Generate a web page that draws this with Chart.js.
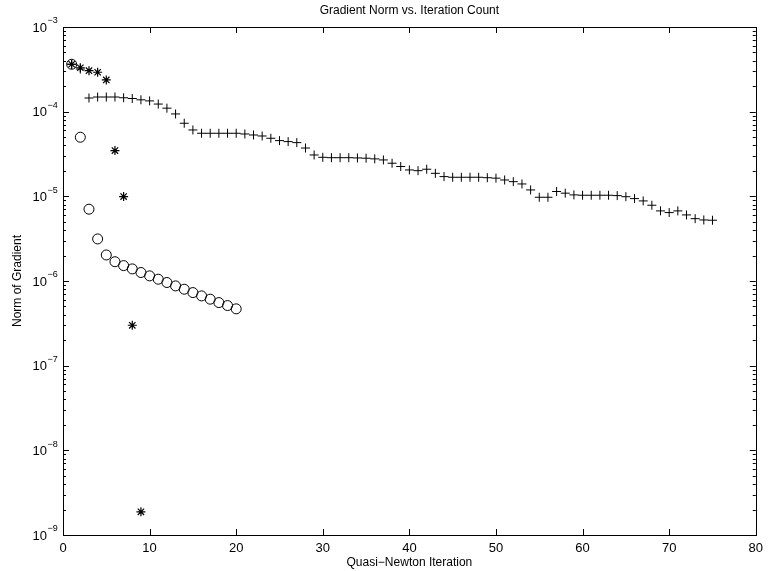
<!DOCTYPE html>
<html>
<head>
<meta charset="utf-8">
<script src="https://cdn.jsdelivr.net/npm/chart.js"></script>
<style>
  body { margin: 0; background: #fff; }
</style>
</head>
<body>
<canvas id="chartBox" width="769" height="571"></canvas>
<script>
// gradient norm per quasi-newton iteration
const plusNorm = [
    3.63e-4, 3.19e-4, 1.45e-4, 1.49e-4, 1.49e-4, 1.49e-4, 1.46e-4, 1.43e-4, 1.38e-4, 1.34e-4,
    1.23e-4, 1.10e-4, 9.4e-5, 7.3e-5, 6.08e-5, 5.56e-5, 5.56e-5, 5.56e-5, 5.56e-5, 5.56e-5,
    5.45e-5, 5.3e-5, 5.16e-5, 4.85e-5, 4.55e-5, 4.43e-5, 4.31e-5, 3.72e-5, 3.08e-5, 2.89e-5,
    2.86e-5, 2.86e-5, 2.86e-5, 2.84e-5, 2.82e-5, 2.77e-5, 2.69e-5, 2.46e-5, 2.25e-5, 2.05e-5,
    2.01e-5, 2.09e-5, 1.87e-5, 1.71e-5, 1.68e-5, 1.68e-5, 1.68e-5, 1.68e-5, 1.66e-5, 1.64e-5,
    1.56e-5, 1.49e-5, 1.40e-5, 1.19e-5, 9.75e-6, 9.75e-6, 1.14e-5, 1.09e-5, 1.04e-5, 1.03e-5,
    1.03e-5, 1.03e-5, 1.03e-5, 1.02e-5, 9.9e-6, 9.4e-6, 8.83e-6, 7.85e-6, 6.73e-6, 6.43e-6,
    6.73e-6, 6.03e-6, 5.45e-6, 5.26e-6, 5.22e-6
]
const circleNorm = [
    3.63e-4, 4.99e-5, 7.05e-6, 3.14e-6, 2.03e-6, 1.69e-6, 1.52e-6, 1.39e-6, 1.26e-6, 1.15e-6,
    1.05e-6, 9.6e-7, 8.75e-7, 8.0e-7, 7.3e-7, 6.67e-7, 6.1e-7, 5.56e-7, 5.13e-7, 4.69e-7
]
const starNorm = [3.63e-4, 3.3e-4, 3.05e-4, 2.92e-4, 2.37e-4, 3.47e-5, 9.93e-6, 3.0e-7, 1.88e-9]

const xTicks = [0, 10, 20, 30, 40, 50, 60, 70, 80]
const yExponents = [-3, -4, -5, -6, -7, -8, -9]

const FONT = "'Liberation Sans', Arial, Helvetica, sans-serif"
Chart.defaults.color = '#000'
Chart.defaults.font.family = FONT

const toPoints = (values) => values.map((v, i) => ({x: i + 1, y: v}))

// matlab style box, inward ticks and 10^n labels
const matlabAxes = {
    id: 'matlabAxes',
    afterDraw(chart) {
        const {ctx, chartArea: a, scales} = chart
        const xs = scales.x
        const ys = scales.y
        ctx.save()
        ctx.strokeStyle = '#000'
        ctx.lineWidth = 1
        ctx.strokeRect(Math.round(a.left) + 0.5, Math.round(a.top) + 0.5,
            Math.round(a.right - a.left), Math.round(a.bottom - a.top))
        ctx.beginPath()
        xTicks.forEach(t => {
            const px = Math.round(xs.getPixelForValue(t)) + 0.5
            ctx.moveTo(px, a.bottom); ctx.lineTo(px, a.bottom - 6)
            ctx.moveTo(px, a.top); ctx.lineTo(px, a.top + 6)
        })
        yExponents.forEach(e => {
            for (let m = 1; m < 10; m++) {
                const v = m * Math.pow(10, e)
                if (e === -3 && m > 1) break
                const py = Math.round(ys.getPixelForValue(v)) + 0.5
                const len = m === 1 ? 6 : 3
                ctx.moveTo(a.left, py); ctx.lineTo(a.left + len, py)
                ctx.moveTo(a.right, py); ctx.lineTo(a.right - len, py)
            }
        })
        ctx.stroke()

        ctx.fillStyle = '#000'
        ctx.textBaseline = 'middle'
        yExponents.forEach(e => {
            const py = ys.getPixelForValue(Math.pow(10, e))
            ctx.font = '13px ' + FONT
            ctx.textAlign = 'right'
            ctx.fillText('10', 47, py + 1)
            ctx.font = '9px ' + FONT
            ctx.textAlign = 'left'
            ctx.fillText('\u2212' + Math.abs(e), 47.5, py - 6)
        })
        ctx.restore()
    }
}

const context = document.querySelector('#chartBox').getContext('2d')
const chart = new Chart(context, {
    type: 'scatter',
    data: {
        datasets: [{
            label: 'plus',
            data: toPoints(plusNorm),
            pointStyle: 'cross',
            pointRadius: 4.5,
            borderColor: '#000',
            borderWidth: 1,
            showLine: false
        }, {
            label: 'circle',
            data: toPoints(circleNorm),
            pointStyle: 'circle',
            pointRadius: 5,
            borderColor: '#000',
            backgroundColor: 'rgba(0,0,0,0)',
            borderWidth: 1,
            showLine: false
        }, {
            label: 'star',
            data: toPoints(starNorm),
            pointStyle: 'star',
            pointRadius: 4.5,
            borderColor: '#000',
            borderWidth: 1.2,
            showLine: false
        }]
    },
    options: {
        responsive: false,
        animation: false,
        layout: {padding: {left: 0, right: 8, top: 0, bottom: 0}},
        plugins: {
            legend: {display: false},
            tooltip: {enabled: false},
            title: {
                display: true,
                fullSize: false,
                text: 'Gradient Norm vs. Iteration Count',
                font: {size: 12, weight: 'normal', family: FONT},
                color: '#000',
                padding: {top: 3, bottom: 9.6}
            }
        },
        scales: {
            x: {
                type: 'linear',
                min: 0,
                max: 80,
                grid: {display: false, drawTicks: false},
                border: {display: false},
                ticks: {stepSize: 10, font: {size: 13}, padding: 6, color: '#000'},
                title: {
                    display: true,
                    text: 'Quasi\u2212Newton Iteration',
                    font: {size: 12},
                    color: '#000',
                    padding: {top: 0, bottom: 1}
                },
                afterFit: (scale) => { scale.height = 36 }
            },
            y: {
                type: 'logarithmic',
                min: 1e-9,
                max: 1e-3,
                grid: {display: false, drawTicks: false},
                border: {display: false},
                ticks: {display: false},
                title: {
                    display: true,
                    text: 'Norm of Gradient',
                    font: {size: 12},
                    color: '#000',
                    padding: {top: 10, bottom: 0}
                },
                afterFit: (scale) => { scale.width = 63 }
            }
        }
    },
    plugins: [matlabAxes]
})
</script>
</body>
</html>
